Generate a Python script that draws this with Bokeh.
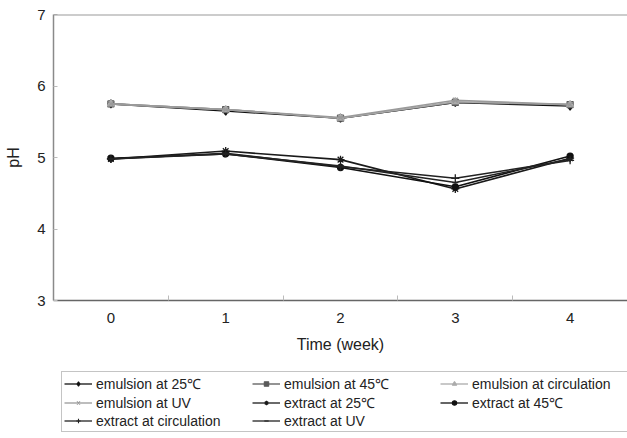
from bokeh.plotting import figure
from bokeh.models import FixedTicker, Legend, LegendItem, Range1d, Span
from bokeh.layouts import column
from bokeh.embed import file_html
from bokeh.resources import INLINE

weeks = [0, 1, 2, 3, 4]
week_labels = ["0", "1", "2", "3", "4"]

emulsion_25 = [5.75, 5.65, 5.55, 5.77, 5.72]
emulsion_45 = [5.75, 5.67, 5.55, 5.77, 5.74]
emulsion_circ = [5.75, 5.67, 5.55, 5.78, 5.74]
emulsion_uv = [5.75, 5.67, 5.56, 5.80, 5.74]
extract_25 = [4.98, 5.09, 4.97, 4.56, 4.99]
extract_45 = [4.99, 5.05, 4.86, 4.59, 5.02]
extract_circ = [4.98, 5.06, 4.87, 4.71, 4.96]
extract_uv = [4.98, 5.05, 4.88, 4.65, 4.98]

series_names = ["emulsion at 25\u2103", "emulsion at 45\u2103", "emulsion at circulation",
                "emulsion at UV", "extract at 25\u2103", "extract at 45\u2103",
                "extract at circulation", "extract at UV"]
series_values = [emulsion_25, emulsion_45, emulsion_circ, emulsion_uv,
                 extract_25, extract_45, extract_circ, extract_uv]
series_colors = ["#111111", "#5a5a5a", "#ababab", "#9a9a9a",
                 "#1a1a1a", "#111111", "#222222", "#222222"]
series_markers = ["diamond", "square", "triangle", "x", "asterisk", "circle", "cross", "dash"]
marker_sizes = [8, 6, 7, 7, 8, 6, 8, 6]

FONT = "Liberation Sans"
Y_MIN, Y_MAX = 3, 7

p = figure(width=627, height=360, output_backend="svg", toolbar_location=None,
           x_range=Range1d(-0.5, 4.5), y_range=Range1d(Y_MIN, Y_MAX),
           min_border_left=53, min_border_top=14, min_border_right=0, min_border_bottom=60)
p.xgrid.visible = False
p.ygrid.visible = False
p.outline_line_color = None
p.background_fill_color = "white"
p.border_fill_color = "white"

# top border line of the plot area (the original shows no right border)
p.add_layout(Span(location=Y_MAX, dimension="width", line_color="#9a9a9a", line_width=2))

p.xaxis.ticker = FixedTicker(ticks=weeks, minor_ticks=[-0.5, 0.5, 1.5, 2.5, 3.5, 4.5])
p.xaxis.major_label_overrides = {w: l for w, l in zip(weeks, week_labels)}
p.xaxis.major_tick_in = 0
p.xaxis.major_tick_out = 0
p.xaxis.minor_tick_in = 5
p.xaxis.minor_tick_out = 0
p.xaxis.minor_tick_line_color = "#bbbbbb"
p.xaxis.axis_line_color = "#666666"
p.xaxis.axis_line_width = 1.5
p.xaxis.major_label_standoff = 12
p.xaxis.axis_label = "Time (week)"
p.xaxis.axis_label_standoff = 10

p.yaxis.ticker = FixedTicker(ticks=[3, 4, 5, 6, 7])
p.yaxis.major_tick_in = 4
p.yaxis.major_tick_out = 0
p.yaxis.minor_tick_in = 0
p.yaxis.minor_tick_out = 0
p.yaxis.major_tick_line_color = "#bbbbbb"
p.yaxis.axis_line_color = "#8a8a8a"
p.yaxis.axis_line_width = 1.5
p.yaxis.major_label_standoff = 8
p.yaxis.axis_label = "pH"
p.yaxis.axis_label_standoff = 12

for ax in (p.xaxis, p.yaxis):
    ax.major_label_text_font = FONT
    ax.major_label_text_font_size = "15px"
    ax.major_label_text_color = "#222222"
    ax.axis_label_text_font = FONT
    ax.axis_label_text_font_size = "16px"
    ax.axis_label_text_font_style = "normal"
    ax.axis_label_text_color = "#222222"

# legend figure: same series drawn outside its visible range, used only for legend glyphs
lg = figure(width=627, height=78, output_backend="svg", toolbar_location=None,
            x_range=Range1d(100, 101), y_range=Range1d(100, 101),
            x_axis_location=None, y_axis_location=None,
            min_border_left=53, min_border_right=0, min_border_top=0, min_border_bottom=0)
lg.xgrid.visible = False
lg.ygrid.visible = False
lg.outline_line_color = None
lg.border_fill_color = "white"

items = {}
for name, vals, col, mk, ms in zip(series_names, series_values, series_colors, series_markers, marker_sizes):
    p.line(weeks, vals, line_color=col, line_width=1.6)
    p.scatter(weeks, vals, marker=mk, size=ms, line_color=col, fill_color=col, line_width=1.3)
    l1 = lg.line(weeks, vals, line_color=col, line_width=1.3)
    l2 = lg.scatter(weeks, vals, marker=mk, size=ms, line_color=col, fill_color=col, line_width=1.1)
    items[name] = LegendItem(label=name, renderers=[l1, l2])

# Bokeh fills legend columns first; reorder so rows read across as in the original
order = [0, 3, 6, 1, 4, 7, 2, 5]
legend = Legend(items=[items[series_names[i]] for i in order], location=(8, 6), ncols=3,
                label_text_font=FONT, label_text_font_size="14px", label_text_color="#222222",
                glyph_width=28, glyph_height=11, label_height=17, label_width=156,
                label_standoff=4, spacing=0, padding=2, margin=0,
                border_line_color="#8a8a8a", border_line_width=1.2,
                background_fill_color="white", background_fill_alpha=1.0)
lg.add_layout(legend, "center")

layout = column(p, lg, spacing=0)
open("out.html", "w").write(file_html(layout, INLINE))
